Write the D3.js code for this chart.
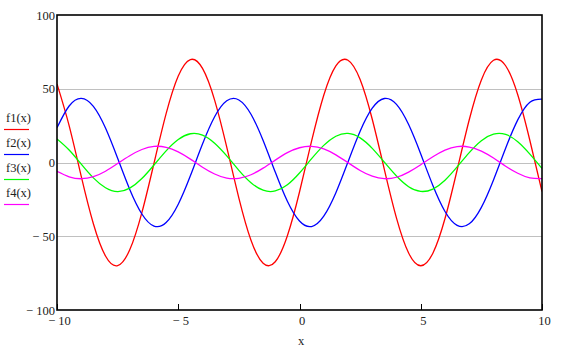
<!DOCTYPE html>
<html><head><meta charset="utf-8">
<script src="https://cdn.jsdelivr.net/npm/d3@7"></script>
<style>
html,body{margin:0;padding:0;background:#fff;}
svg{display:block;font-family:"Liberation Serif","Times New Roman",serif;}
</style></head>
<body><svg id="c" width="561" height="349"></svg>
<script>
// sample positions along x
const xs = [-10,-9.5,-9,-8.5,-8,-7.5,-7,-6.5,-6,-5.5,-5,-4.5,-4,-3.5,-3,-2.5,-2,-1.5,-1,-0.5,0,0.5,1,1.5,2,2.5,3,3.5,4,4.5,5,5.5,6,6.5,7,7.5,8,8.5,9,9.5,10];
const f1 = [53.3,25.0,-9.4,-41.5,-63.4,-69.9,-59.2,-34.0,-0.5,33.1,58.6,69.8,63.8,42.3,10.4,-24.1,-52.7,-68.3,-67.3,-49.7,-20.0,14.6,45.6,65.5,69.3,56.2,29.3,-4.8,-37.7,-61.4,-70.0,-61.5,-38.0,-5.1,29.0,56.0,69.3,65.6,45.9,14.9,-19.7];
const f2 = [23.6,38.3,43.5,38.1,23.4,2.9,-18.3,-34.9,-43.1,-40.7,-28.3,-9.0,12.5,31.0,41.8,42.4,32.7,14.9,-6.5,-26.3,-39.7,-43.4,-36.4,-20.5,0.4,21.2,36.8,43.4,39.4,25.7,5.8,-15.6,-33.2,-42.6,-41.6,-30.4,-11.8,9.7,28.9,40.9,43.0];
const f3 = [16.0,8.5,-1.1,-10.4,-17.1,-19.7,-17.4,-10.9,-1.7,7.9,15.6,19.5,18.6,13.1,4.5,-5.3,-13.7,-18.8,-19.3,-15.1,-7.1,2.6,11.6,17.8,19.7,16.7,9.6,0.2,-9.2,-16.4,-19.6,-18.0,-12.0,-3.0,6.7,14.8,19.2,19.0,14.1,5.7,-4.0];
const f4 = [-6.0,-9.7,-11.0,-9.6,-5.9,-0.7,4.6,8.8,10.9,10.3,7.2,2.3,-3.2,-7.8,-10.6,-10.7,-8.3,-3.8,1.6,6.7,10.0,11.0,9.2,5.2,-0.1,-5.4,-9.3,-11.0,-10.0,-6.5,-1.5,3.9,8.4,10.8,10.5,7.7,3.0,-2.5,-7.3,-10.4,-10.9];
const seriesNames = ["f1(x)","f2(x)","f3(x)","f4(x)"];
const seriesColors = ["#ff0000","#0000ff","#00ff00","#ff00ff"];
const xTicks = [-10,-5,0,5,10];
const xTickLabels = ["\u2212 10","\u2212 5","0","5","10"];
const yTicks = [100,50,0,-50,-100];
const yTickLabels = ["100","50","0","\u2212 50","\u2212 100"];
const yGrid = [50,0,-50];
const xTitle = "x";

const svg = d3.select("#c");
const L=57, R=542, T=15, B=310;
const x = d3.scaleLinear().domain([-10,10]).range([L,R]);
const y = d3.scaleLinear().domain([-100,100]).range([B,T]);

svg.append("defs").append("clipPath").attr("id","clip")
  .append("rect").attr("x",L).attr("y",T).attr("width",R-L).attr("height",B-T);

// grid
svg.append("g").selectAll("line").data(yGrid).join("line")
  .attr("x1",L).attr("x2",R).attr("y1",d=>Math.round(y(d))+0.5).attr("y2",d=>Math.round(y(d))+0.5)
  .attr("stroke","#c0c0c0").attr("stroke-width",1);

// curves
const data = [f1,f2,f3,f4];
const line = d3.line().x((d,i)=>x(xs[i])).y(d=>y(d)).curve(d3.curveNatural);
svg.append("g").attr("clip-path","url(#clip)").selectAll("path").data(data).join("path")
  .attr("d",d=>line(d)).attr("fill","none")
  .attr("stroke",(d,i)=>seriesColors[i]).attr("stroke-width",1.3);

// frame
svg.append("rect").attr("x",L).attr("y",T).attr("width",R-L).attr("height",B-T)
  .attr("fill","none").attr("stroke","#000").attr("stroke-width",1.6);

// x ticks
svg.append("g").selectAll("line").data(xTicks).join("line")
  .attr("x1",d=>Math.round(x(d))+0.5).attr("x2",d=>Math.round(x(d))+0.5)
  .attr("y1",B).attr("y2",B-6).attr("stroke","#000").attr("stroke-width",1);

// x tick labels
svg.append("g").selectAll("text").data(xTicks).join("text")
  .attr("x",d=>x(d)+2.5).attr("y",325).attr("text-anchor","middle")
  .attr("font-size",12.5).attr("fill","#222")
  .text((d,i)=>xTickLabels[i]);

// y tick labels
svg.append("g").selectAll("text").data(yTicks).join("text")
  .attr("x",55).attr("y",d=>y(d)+4.5).attr("text-anchor","end")
  .attr("font-size",12.5).attr("fill","#222")
  .text((d,i)=>yTickLabels[i]);

// x title
svg.append("text").attr("x",301).attr("y",345).attr("text-anchor","middle")
  .attr("font-size",12.5).attr("fill","#222").text(xTitle);

// legend
const lg = svg.append("g").selectAll("g").data(seriesNames).join("g")
  .attr("transform",(d,i)=>`translate(0,${i*25})`);
lg.append("text").attr("x",6).attr("y",122).attr("font-size",12.5).attr("fill","#222").text(d=>d);
lg.append("line").attr("x1",4).attr("x2",29).attr("y1",129.5).attr("y2",129.5)
  .attr("stroke",(d,i)=>seriesColors[i]).attr("stroke-width",1.2);
</script>
</body></html>
